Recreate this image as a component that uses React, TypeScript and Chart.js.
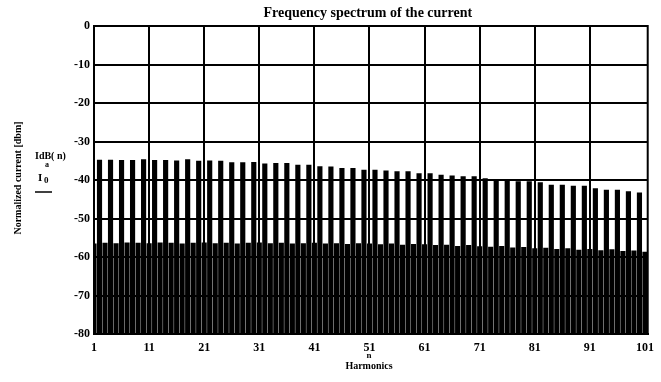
import React, { useEffect, useRef } from 'react';
import { Chart, registerables } from 'chart.js';

Chart.register(...registerables);

const chartTitle = 'Frequency spectrum of the current';
const yAxisTitle = 'Normalized current [dbm]';
const xAxisTitle = ['n', 'Harmonics'];
const xTicks = [1, 11, 21, 31, 41, 51, 61, 71, 81, 91, 101];
const yMin = -80;
const yMax = 0;

// bar levels (dB) at harmonics 2,4,...,100 (tall lines)
const tallLevels = [
  -34.8, -34.8, -34.9, -34.9, -34.7, -34.9, -34.9, -35.0, -34.7, -35.1,
  -35.0, -35.1, -35.5, -35.5, -35.4, -35.8, -35.7, -35.7, -36.1, -36.1,
  -36.5, -36.6, -37.0, -37.0, -37.4, -37.4, -37.6, -37.8, -37.8, -38.3,
  -38.3, -38.7, -38.9, -39.1, -39.1, -39.6, -40.0, -40.0, -40.4, -40.4,
  -40.7, -41.3, -41.3, -41.6, -41.6, -42.2, -42.6, -42.6, -43.0, -43.3,
];
// bar levels (dB) at harmonics 1,3,...,101 (short lines)
const shortLevels = [
  -56.6, -56.4, -56.5, -56.3, -56.4, -56.5, -56.3, -56.4, -56.6, -56.4,
  -56.3, -56.5, -56.4, -56.6, -56.4, -56.3, -56.5, -56.4, -56.6, -56.5,
  -56.4, -56.6, -56.5, -56.7, -56.5, -56.6, -56.8, -56.6, -56.9, -56.7,
  -56.8, -57.0, -56.9, -57.2, -57.0, -57.3, -57.4, -57.2, -57.6, -57.5,
  -57.8, -57.7, -58.0, -57.8, -58.2, -58.0, -58.3, -58.1, -58.5, -58.4,
  -58.7,
];

const SERIF = '"Liberation Serif", "DejaVu Serif", serif';

const textPlugin = {
  id: 'extraText',
  afterDraw(chart: any) {
    const { ctx, chartArea } = chart;
    ctx.save();
    // frame
    ctx.strokeStyle = '#000';
    ctx.lineWidth = 2;
    ctx.strokeRect(chartArea.left, chartArea.top, chartArea.right - chartArea.left, chartArea.bottom - chartArea.top);

    ctx.fillStyle = '#000';
    // title
    ctx.font = `bold 14px ${SERIF}`;
    ctx.textAlign = 'center';
    ctx.textBaseline = 'middle';
    ctx.fillText(chartTitle, (chartArea.left + chartArea.right) / 2 - 3, 13);

    // y axis title
    ctx.save();
    ctx.translate(18, 178);
    ctx.rotate(-Math.PI / 2);
    ctx.font = `bold 10px ${SERIF}`;
    ctx.fillText(yAxisTitle, 0, 0);
    ctx.restore();

    // Mathcad expression
    ctx.textAlign = 'left';
    ctx.textBaseline = 'alphabetic';
    ctx.font = `bold 10px ${SERIF}`;
    ctx.fillText('IdB( n)', 35, 159);
    ctx.font = `bold 8px ${SERIF}`;
    ctx.fillText('a', 45, 167);
    ctx.font = `bold 11px ${SERIF}`;
    ctx.fillText('I', 38, 181);
    ctx.font = `bold 9px ${SERIF}`;
    ctx.fillText('0', 44, 183);
    ctx.lineWidth = 1.5;
    ctx.beginPath();
    ctx.moveTo(35, 192);
    ctx.lineTo(52, 192);
    ctx.stroke();

    // x axis title
    ctx.textAlign = 'center';
    ctx.textBaseline = 'middle';
    ctx.font = `bold 9px ${SERIF}`;
    ctx.fillText(xAxisTitle[0], 369, 356);
    ctx.font = `bold 10px ${SERIF}`;
    ctx.fillText(xAxisTitle[1], 369, 366);
    ctx.restore();
  },
};

export default function App() {
  const ref = useRef<HTMLCanvasElement | null>(null);

  useEffect(() => {
    if (!ref.current) return;
    const shortData = shortLevels.map((v, i) => ({ x: i * 2 + 1, y: [yMin, v] }));
    const tallData = tallLevels.map((v, i) => ({ x: i * 2 + 2, y: [yMin, v] }));
    const lastTick = xTicks[xTicks.length - 1];
    const chart = new Chart(ref.current, {
      type: 'bar',
      data: {
        datasets: [
          {
            data: shortData as any,
            backgroundColor: '#000',
            borderWidth: 0,
            barThickness: 4.5,
            grouped: false,
          } as any,
          {
            data: tallData as any,
            backgroundColor: '#000',
            borderWidth: 0,
            barThickness: 4.5,
            grouped: false,
          } as any,
        ],
      },
      options: {
        animation: false,
        responsive: false,
        devicePixelRatio: 1,
        layout: { padding: { top: 26, right: 9, left: 0, bottom: 0 } },
        plugins: {
          legend: { display: false },
          title: { display: false },
          tooltip: { enabled: false },
        },
        scales: {
          x: {
            type: 'linear',
            min: 1,
            max: 101.5,
            offset: false,
            afterBuildTicks: (scale: any) => {
              scale.ticks = xTicks.map((v) => ({ value: v }));
            },
            afterFit: (scale: any) => {
              scale.height = 48;
            },
            grid: {
              color: (c: any) => (c.tick && c.tick.value === lastTick ? 'rgba(0,0,0,0)' : '#000'),
              lineWidth: 2,
              drawTicks: false,
              offset: false,
            },
            border: { display: true, color: '#000', width: 2 },
            ticks: {
              color: '#000',
              padding: 7,
              maxRotation: 0,
              autoSkip: false,
              font: { family: SERIF, size: 12, weight: 'bold' },
              callback: (v: any) => String(v),
            },
          },
          y: {
            type: 'linear',
            min: yMin,
            max: yMax,
            afterFit: (scale: any) => {
              scale.width = 94;
            },
            grid: { color: '#000', lineWidth: 2, drawTicks: false },
            border: { display: true, color: '#000', width: 2 },
            ticks: {
              stepSize: 10,
              color: '#000',
              padding: 4,
              font: { family: SERIF, size: 12, weight: 'bold' },
            },
          },
        },
      },
      plugins: [textPlugin],
    } as any);
    return () => chart.destroy();
  }, []);

  return (
    <div style={{ position: 'fixed', left: 0, top: 0, width: 661, height: 382, background: '#fff' }}>
      <canvas ref={ref} width={661} height={382} style={{ width: 661, height: 382, display: 'block' }} />
    </div>
  );
}
